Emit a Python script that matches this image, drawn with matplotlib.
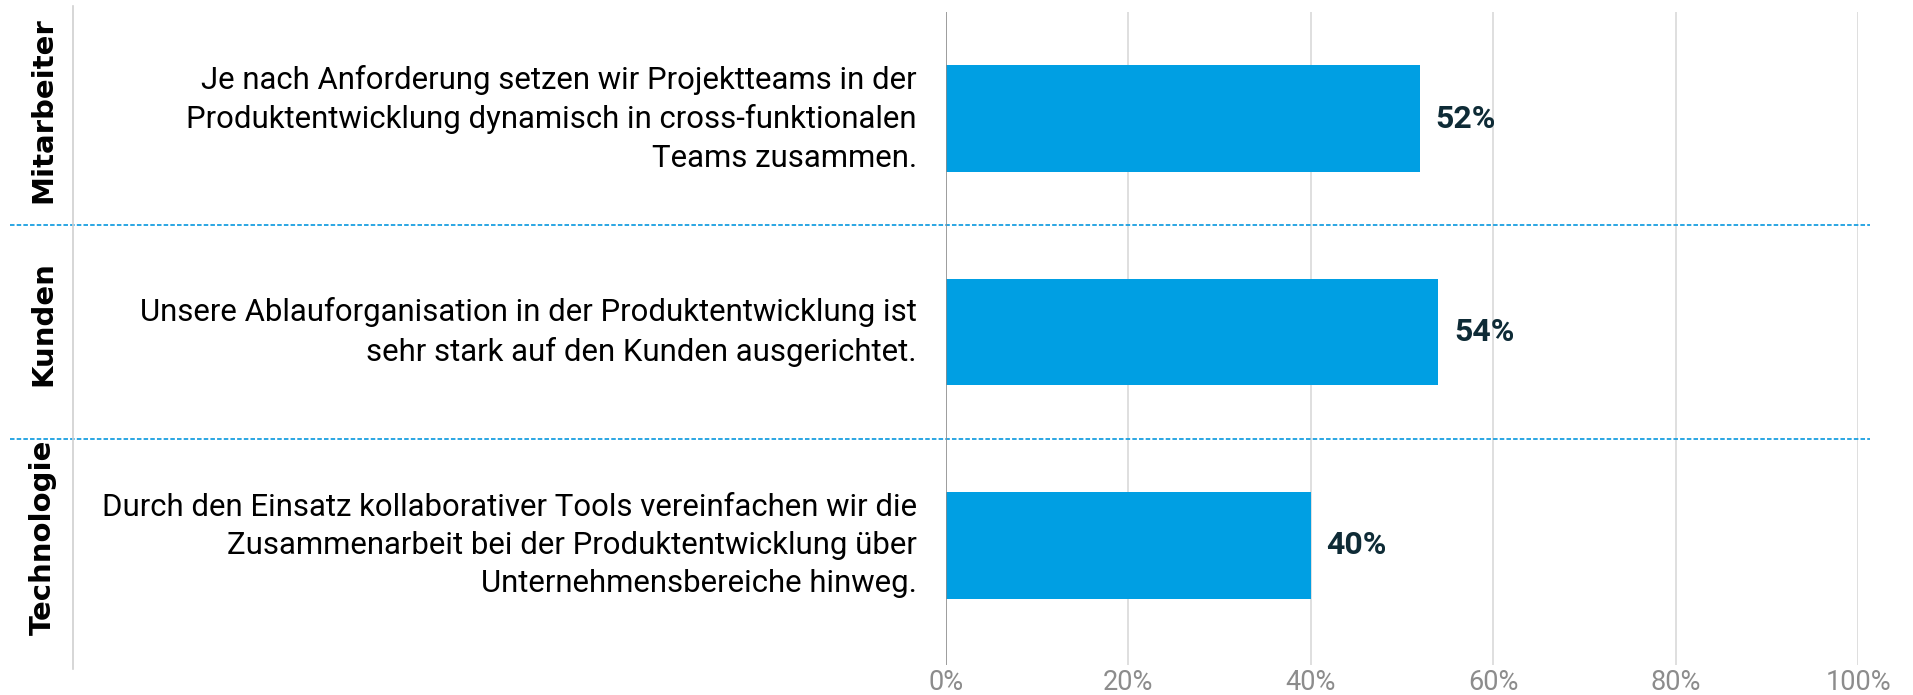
import matplotlib
matplotlib.use("Agg")
import matplotlib.pyplot as plt
from matplotlib.lines import Line2D

# Data
categories = ["Mitarbeiter", "Kunden", "Technologie"]
statements = [
    "Je nach Anforderung setzen wir Projektteams in der\nProduktentwicklung dynamisch in cross-funktionalen\nTeams zusammen.",
    "Unsere Ablauforganisation in der Produktentwicklung ist\nsehr stark auf den Kunden ausgerichtet.",
    "Durch den Einsatz kollaborativer Tools vereinfachen wir die\nZusammenarbeit bei der Produktentwicklung über\nUnternehmensbereiche hinweg.",
]
values = [0.52, 0.54, 0.40]
ticks = [0, 0.2, 0.4, 0.6, 0.8, 1.0]
tick_labels = ["0%", "20%", "40%", "60%", "80%", "100%"]

narrow = "Roboto"

W, H = 1913, 695
fig = plt.figure(figsize=(W / 100, H / 100), dpi=100)
ax = fig.add_axes([946 / W, 1 - 665 / H, 912 / W, 653 / H])

bar_color = "#009FE3"
ypos = list(range(len(values)))
ax.barh(ypos, values, height=0.5, color=bar_color, zorder=3)

ax.set_xlim(0, 1.0)
ax.set_ylim(2.56, -0.5)
ax.set_xticks(ticks)
ax.set_xticklabels(tick_labels, fontsize=19.5, color="#8c8c8c", family=narrow)
ax.tick_params(axis="x", length=0, pad=3)
ax.set_yticks([])
for s in ax.spines.values():
    s.set_visible(False)
for t in ticks[1:]:
    ax.axvline(t, color="#d9d9d9", lw=1.2, zorder=1)
ax.axvline(0, color="#8c8c8c", lw=1.2, zorder=4)

# value labels
for y, v in zip(ypos, values):
    ax.text(v + 0.017, y, f"{round(v * 100)}%", va="center", ha="left",
            fontsize=23, fontweight="bold", color="#0e2b36", family=narrow)

# statements and categories
for y, (cat, st) in enumerate(zip(categories, statements)):
    ax.text(-0.032, y, st, transform=ax.get_yaxis_transform(), ha="right",
            va="center", fontsize=22.4, color="black", family=narrow,
            linespacing=1.4)
    ax.text(-0.99, y - 0.04, cat, transform=ax.get_yaxis_transform(),
            ha="center", va="center", rotation=90, fontsize=21,
            fontweight="bold", color="black", family="DejaVu Sans")

# dashed separators
for y in [0.5, 1.5]:
    ax.plot([-1.026, 1.013], [y, y], transform=ax.get_yaxis_transform(),
            color="#1a9fe0", lw=1.3, ls=(0, (2.5, 1.2)), clip_on=False, zorder=2)

# left border line
fig.add_artist(Line2D([73 / W, 73 / W], [1 - 669 / H, 1 - 6 / H],
                      transform=fig.transFigure, color="#d0d0d0", lw=1.2))

fig.savefig("out.png", dpi=100)
